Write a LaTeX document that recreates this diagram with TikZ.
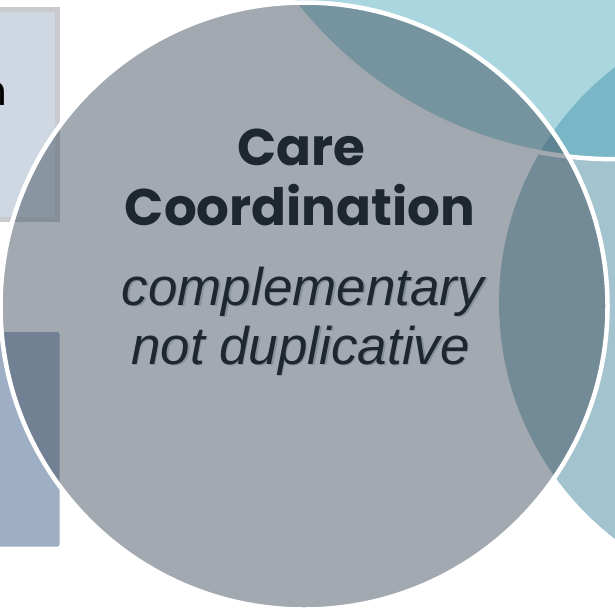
\documentclass[tikz,border=0pt]{standalone}
\usepackage{fontspec}
\setmainfont{Poppins}
\newfontfamily\arialfont{Liberation Sans}
\definecolor{mainfill}{HTML}{455361}
\definecolor{topfill}{HTML}{53ADBF}
\definecolor{rightfill}{HTML}{A3C3CE}
\definecolor{boxlight}{HTML}{CFD8E2}
\definecolor{boxedge}{HTML}{C9CACD}
\definecolor{boxdark}{HTML}{9EAEC4}
\definecolor{inktext}{HTML}{1F272E}
\definecolor{shadowtext}{HTML}{6B747C}

\begin{document}
\begin{tikzpicture}[x=1pt,y=-1pt,
		ring/.style={draw=white,line width=4.5pt},
		title text/.style={font=\bfseries\fontsize{51.5}{60}\selectfont,text=inktext,inner sep=0pt,anchor=base},
		note text/.style={font=\arialfont\itshape\fontsize{53}{60}\selectfont,text=inktext,inner sep=0pt,anchor=base},
		note shadow/.style={note text,text=shadowtext,text opacity=0.45}]
		\useasboundingbox (0,0) rectangle (615,613);
		\clip (0,0) rectangle (615,613);
		% side boxes
		\filldraw[fill=boxlight,draw=boxedge,line width=5pt] (-10,9.8) rectangle (57,219.5);
		\node[font=\fontsize{42}{48}\selectfont,inner sep=0pt,anchor=base east] (boxtext) at (8,105) {n};
		\fill[boxdark,rounded corners=2pt] (-10,332) rectangle (59.5,546.5);
		% circles
		\fill[rightfill] (797,303) circle (298);
		\filldraw[ring,fill=topfill,fill opacity=0.5] (615,-248) circle (407.2);
		\filldraw[ring,fill=mainfill,fill opacity=0.5] (304,306) circle (303.5);
		% text
		\node[title text] (care) at (301,165) {Care};
		\node[title text] (coord) at (300,225) {Coordination};
		\node[note shadow] (complsh) at (304.5,306.5) {complementary};
		\node[note shadow] (notdupsh) at (302,365.5) {not duplicative};
		\node[note text] (compl) at (303,305) {complementary};
		\node[note text] (notdup) at (300.5,364) {not duplicative};
\end{tikzpicture}
\end{document}
